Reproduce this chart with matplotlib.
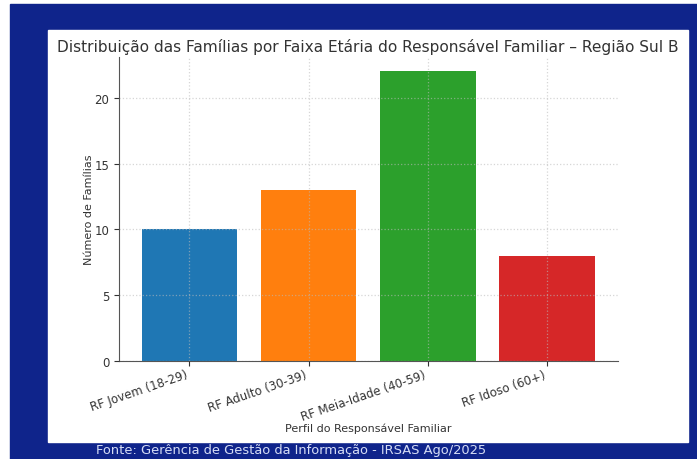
"""Bar chart: families by age band of the household head, Região Sul B."""

import matplotlib
matplotlib.use("Agg")
import matplotlib.pyplot as plt
from matplotlib.patches import Rectangle

# --- data ---
categories = [
    "RF Jovem (18-29)",
    "RF Adulto (30-39)",
    "RF Meia-Idade (40-59)",
    "RF Idoso (60+)",
]
families = [10, 13, 22, 8]
bar_colors = ["#1f77b4", "#ff7f0e", "#2ca02c", "#d62728"]

TITLE = "Distribuição das Famílias por Faixa Etária do Responsável Familiar – Região Sul B"
SOURCE = "Fonte: Gerência de Gestão da Informação - IRSAS Ago/2025"

BG_BLUE = "#0f248b"
TEXT_GREY = "#333333"

W, H = 697, 460
fig = plt.figure(figsize=(W / 100, H / 100), dpi=100)
fig.patch.set_facecolor("white")


def px_rect(x0, y0, x1, y1, color):
    """Add a rectangle given in pixel coords (origin top-left)."""
    fig.patches.append(Rectangle((x0 / W, 1 - y1 / H), (x1 - x0) / W, (y1 - y0) / H,
                                 transform=fig.transFigure, color=color, zorder=-2))


# blue frame and white chart panel
px_rect(10, 5, W, H, BG_BLUE)
px_rect(48, 31, 688, 443, "white")

ax = fig.add_axes([119 / W, 1 - 362 / H, (617.5 - 119) / W, (362 - 58) / H])
ax.set_zorder(2)
ax.set_facecolor("white")
ax.bar(categories, families, color=bar_colors, width=0.8)

ax.set_title(TITLE, fontsize=11.1, color=TEXT_GREY, pad=4)
ax.set_ylabel("Número de Famílias", fontsize=8, color=TEXT_GREY, labelpad=0)
ax.set_xlabel("Perfil do Responsável Familiar", fontsize=8, color=TEXT_GREY, labelpad=0)

ax.grid(True, linestyle=":", color="#bbbbbb", alpha=0.6, linewidth=0.9)
ax.set_axisbelow(False)
for side in ("top", "right"):
    ax.spines[side].set_visible(False)
for side in ("left", "bottom"):
    ax.spines[side].set_color("#555555")

ax.tick_params(axis="both", labelsize=8.5, colors=TEXT_GREY)
ax.tick_params(axis="x", pad=1.5)
plt.setp(ax.get_xticklabels(), rotation=19, ha="right")

fig.text(96 / W, 1 - 451 / H, SOURCE, fontsize=9.4, color="#d5dcf5",
         family="DejaVu Sans", va="center", ha="left", zorder=3)

fig.savefig("out.png", dpi=100)
